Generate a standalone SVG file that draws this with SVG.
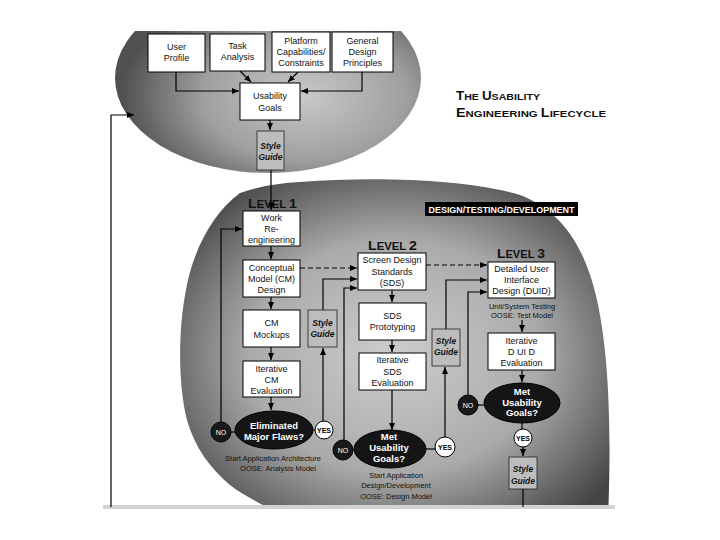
<svg xmlns="http://www.w3.org/2000/svg" width="720" height="540" viewBox="0 0 720 540">
<defs>
<radialGradient id="gTop" cx="0.62" cy="0.6" r="0.6">
<stop offset="0" stop-color="#c8c8c8"/>
<stop offset="0.55" stop-color="#a0a0a0"/>
<stop offset="1" stop-color="#505050"/>
</radialGradient>
<radialGradient id="gLow" cx="0.5" cy="0.52" r="0.62">
<stop offset="0" stop-color="#cdcdcd"/>
<stop offset="0.55" stop-color="#aaaaaa"/>
<stop offset="1" stop-color="#454545"/>
</radialGradient>
<clipPath id="cTop"><rect x="0" y="31" width="720" height="200"/></clipPath>
<clipPath id="cLow"><rect x="0" y="150" width="720" height="355"/></clipPath>
<marker id="ah" markerUnits="userSpaceOnUse" markerWidth="7" markerHeight="6" refX="7" refY="3" orient="auto">
<path d="M0,0 L7,3 L0,6 z" fill="#000"/>
</marker>
<style>
.bx{fill:#fff;stroke:#000;stroke-width:1}
.sg{fill:#bdbdbd;stroke:#222;stroke-width:0.8}
.t{font-family:"Liberation Sans",Arial,sans-serif;font-size:9px;fill:#111;text-anchor:middle}
.ts{font-family:"Liberation Sans",Arial,sans-serif;font-size:8.5px;fill:#111;text-anchor:middle;font-style:italic;font-weight:bold}
.te{font-family:"Liberation Sans",Arial,sans-serif;font-size:9.5px;fill:#fff;text-anchor:middle;font-weight:bold}
.tn{font-family:"Liberation Sans",Arial,sans-serif;font-size:7px;fill:#fff;text-anchor:middle}
.ty{font-family:"Liberation Sans",Arial,sans-serif;font-size:7px;fill:#000;text-anchor:middle;font-weight:bold}
.tm{font-family:"Liberation Sans",Arial,sans-serif;font-size:7.5px;fill:#111;text-anchor:middle}
.big{font-family:"Liberation Sans",Arial,sans-serif;font-weight:bold;fill:#111}
.el{fill:#151515;stroke:#000}
.no{fill:#1a1a1a;stroke:#000}
.yes{fill:#fff;stroke:#000;stroke-width:1}
.c{fill:none;stroke:#000;stroke-width:1.2}
.ca{fill:none;stroke:#000;stroke-width:1.2;marker-end:url(#ah)}
.cd{fill:none;stroke:#000;stroke-width:1.2;stroke-dasharray:5,3;marker-end:url(#ah)}
</style>
</defs>
<rect width="720" height="540" fill="#fff"/>

<g id="background">
<ellipse cx="268" cy="78" rx="153" ry="95" fill="url(#gTop)" clip-path="url(#cTop)"/>
<path d="M300,182 C380,176 470,180 520,195 C560,210 585,245 597,300 C608,350 612,420 608,520 L290,520 C270,508 245,497 230,485 C210,468 195,448 187,420 C178,385 178,330 186,290 C192,255 210,215 240,193 C260,186 280,183 300,182 Z" fill="url(#gLow)" clip-path="url(#cLow)"/>
<rect x="103" y="505" width="512" height="4" fill="#d2d2d2"/>
</g>

<g id="title">
<text class="big" x="456" y="100" textLength="84" lengthAdjust="spacingAndGlyphs"><tspan font-size="12">T</tspan><tspan font-size="9.5">HE </tspan><tspan font-size="12">U</tspan><tspan font-size="9.5">SABILITY</tspan></text>
<text class="big" x="456" y="117" textLength="150" lengthAdjust="spacingAndGlyphs"><tspan font-size="12">E</tspan><tspan font-size="9.5">NGINEERING </tspan><tspan font-size="12">L</tspan><tspan font-size="9.5">IFECYCLE</tspan></text>
</g>

<g id="levels">
<text class="big" x="248" y="208" textLength="49" lengthAdjust="spacingAndGlyphs"><tspan font-size="12.5">L</tspan><tspan font-size="10">EVEL </tspan><tspan font-size="12.5">1</tspan></text>
<text class="big" x="368" y="250" textLength="49" lengthAdjust="spacingAndGlyphs"><tspan font-size="12.5">L</tspan><tspan font-size="10">EVEL </tspan><tspan font-size="12.5">2</tspan></text>
<text class="big" x="497" y="258" textLength="48" lengthAdjust="spacingAndGlyphs"><tspan font-size="12.5">L</tspan><tspan font-size="10">EVEL </tspan><tspan font-size="12.5">3</tspan></text>
</g>

<g id="dtd-label">
<rect x="425" y="202" width="153" height="14" fill="#000"/>
<text x="501.5" y="212.5" font-family="Liberation Sans, Arial, sans-serif" font-size="8.5" font-weight="bold" fill="#fff" text-anchor="middle" textLength="146" lengthAdjust="spacingAndGlyphs">DESIGN/TESTING/DEVELOPMENT</text>
</g>

<g id="connectors">
<path class="ca" d="M176,72 V91 H239"/>
<path class="ca" d="M362,72 V91 H301"/>
<path class="ca" d="M240,71 L251,82"/>
<path class="ca" d="M298,72 L288,82"/>
<path class="ca" d="M270,120 V130"/>
<path class="ca" d="M271,170 V210"/>
<path class="ca" d="M111,507 V115 H134"/>
<path class="ca" d="M271,246 V259"/>
<path class="ca" d="M271,297 V309"/>
<path class="ca" d="M271,347 V360"/>
<path class="ca" d="M271,397 V410"/>
<path class="ca" d="M221,422 V229 H242"/>
<path class="c" d="M231,432 H236"/>
<path class="c" d="M313,430 H315"/>
<path class="ca" d="M323,421 V348"/>
<path class="ca" d="M323,310 V279 H357"/>
<path class="cd" d="M300,268 H357"/>
<path class="ca" d="M344,440 V288 H357"/>
<path class="c" d="M353,450 H355"/>
<path class="ca" d="M392,290 V302"/>
<path class="ca" d="M392,340 V352"/>
<path class="ca" d="M392,390 V430"/>
<path class="c" d="M425,449 H435"/>
<path class="ca" d="M445,437 V367"/>
<path class="ca" d="M446,329 V280 H487"/>
<path class="cd" d="M426,265 H487"/>
<path class="ca" d="M468,395 V292 H487"/>
<path class="c" d="M478,405 H484"/>
<path class="ca" d="M522,320 V332"/>
<path class="ca" d="M522,370 V382"/>
<path class="c" d="M522,423 V429"/>
<path class="ca" d="M523,447 V456"/>
<path class="c" d="M523,489 V507"/>
</g>

<g id="user-profile"><rect class="bx" x="148" y="34" width="57" height="38"/><text class="t" x="176.5" y="50">User</text><text class="t" x="176.5" y="61">Profile</text></g>
<g id="task-analysis"><rect class="bx" x="210" y="34" width="55" height="37"/><text class="t" x="237.5" y="49">Task</text><text class="t" x="237.5" y="60">Analysis</text></g>
<g id="platform"><rect class="bx" x="272" y="32" width="58" height="40"/><text class="t" x="301" y="44">Platform</text><text class="t" x="301" y="55">Capabilities/</text><text class="t" x="301" y="66">Constraints</text></g>
<g id="general-design"><rect class="bx" x="332" y="32" width="61" height="40"/><text class="t" x="362.5" y="44">General</text><text class="t" x="362.5" y="55">Design</text><text class="t" x="362.5" y="66">Principles</text></g>
<g id="usability-goals"><rect class="bx" x="240" y="83" width="60" height="37"/><text class="t" x="270" y="99">Usability</text><text class="t" x="270" y="111">Goals</text></g>
<g id="style-guide-top"><rect class="sg" x="257" y="131" width="27" height="39"/><text class="ts" x="270.5" y="149">Style</text><text class="ts" x="270.5" y="160">Guide</text></g>

<g id="work-reengineering"><rect class="bx" x="243" y="211" width="57" height="35"/><text class="t" x="271.5" y="220.5">Work</text><text class="t" x="271.5" y="231.5">Re-</text><text class="t" x="271.5" y="242.5">engineering</text></g>
<g id="cm-design"><rect class="bx" x="243" y="260" width="57" height="37"/><text class="t" x="271.5" y="271">Conceptual</text><text class="t" x="271.5" y="282">Model (CM)</text><text class="t" x="271.5" y="293">Design</text></g>
<g id="cm-mockups"><rect class="bx" x="243" y="310" width="57" height="37"/><text class="t" x="271.5" y="326">CM</text><text class="t" x="271.5" y="338">Mockups</text></g>
<g id="iterative-cm"><rect class="bx" x="243" y="361" width="57" height="36"/><text class="t" x="271.5" y="372">Iterative</text><text class="t" x="271.5" y="383">CM</text><text class="t" x="271.5" y="394">Evaluation</text></g>
<g id="eliminated-flaws"><ellipse class="el" cx="274" cy="430" rx="39" ry="19"/><text class="te" x="274" y="428.5">Eliminated</text><text class="te" x="274" y="440">Major Flaws?</text></g>
<g id="no-1"><circle class="no" cx="221" cy="432" r="10"/><text class="tn" x="221" y="434.5">NO</text></g>
<g id="yes-1"><circle class="yes" cx="324" cy="430" r="9"/><text class="ty" x="324" y="432.5">YES</text></g>
<g id="note-1"><text class="tm" x="273" y="461">Start Application Architecture</text><text class="tm" x="278" y="471">OOSE: Analysis Model</text></g>
<g id="style-guide-1"><rect class="sg" x="308" y="310" width="29" height="37"/><text class="ts" x="322.5" y="326">Style</text><text class="ts" x="322.5" y="337">Guide</text></g>

<g id="sds"><rect class="bx" x="358" y="253" width="68" height="37"/><text class="t" x="392" y="263">Screen Design</text><text class="t" x="392" y="275">Standards</text><text class="t" x="392" y="286">(SDS)</text></g>
<g id="sds-prototyping"><rect class="bx" x="359" y="303" width="67" height="37"/><text class="t" x="392.5" y="319">SDS</text><text class="t" x="392.5" y="330">Prototyping</text></g>
<g id="iterative-sds"><rect class="bx" x="359" y="353" width="67" height="37"/><text class="t" x="392.5" y="363">Iterative</text><text class="t" x="392.5" y="375">SDS</text><text class="t" x="392.5" y="386">Evaluation</text></g>
<g id="met-goals-2"><ellipse class="el" cx="390" cy="449" rx="36" ry="19"/><text class="te" x="389" y="440">Met</text><text class="te" x="389" y="451">Usability</text><text class="te" x="389" y="462">Goals?</text></g>
<g id="no-2"><circle class="no" cx="343" cy="450" r="10"/><text class="tn" x="343" y="452.5">NO</text></g>
<g id="yes-2"><circle class="yes" cx="445" cy="447" r="10"/><text class="ty" x="445" y="449.5">YES</text></g>
<g id="note-2"><text class="tm" x="396" y="478">Start Application</text><text class="tm" x="396" y="488">Design/Development</text><text class="tm" x="396" y="499">OOSE: Design Model</text></g>
<g id="style-guide-2"><rect class="sg" x="432" y="329" width="28" height="37"/><text class="ts" x="446" y="344">Style</text><text class="ts" x="446" y="355">Guide</text></g>

<g id="duid"><rect class="bx" x="488" y="262" width="67" height="36"/><text class="t" x="521.5" y="272">Detailed User</text><text class="t" x="521.5" y="283">Interface</text><text class="t" x="521.5" y="294">Design (DUID)</text></g>
<g id="note-3"><text class="tm" x="522" y="309">Unit/System Testing</text><text class="tm" x="522" y="318">OOSE: Test Model</text></g>
<g id="iterative-duid"><rect class="bx" x="488" y="333" width="67" height="37"/><text class="t" x="521.5" y="344">Iterative</text><text class="t" x="521.5" y="355">D UI D</text><text class="t" x="521.5" y="366">Evaluation</text></g>
<g id="met-goals-3"><ellipse class="el" cx="522" cy="403" rx="38" ry="20"/><text class="te" x="522" y="395">Met</text><text class="te" x="522" y="405.5">Usability</text><text class="te" x="522" y="416">Goals?</text></g>
<g id="no-3"><circle class="no" cx="468" cy="405" r="10"/><text class="tn" x="468" y="407.5">NO</text></g>
<g id="yes-3"><circle class="yes" cx="523" cy="438" r="9"/><text class="ty" x="523" y="440.5">YES</text></g>
<g id="style-guide-3"><rect class="sg" x="509" y="457" width="28" height="32"/><text class="ts" x="523" y="472">Style</text><text class="ts" x="523" y="484">Guide</text></g>
</svg>
